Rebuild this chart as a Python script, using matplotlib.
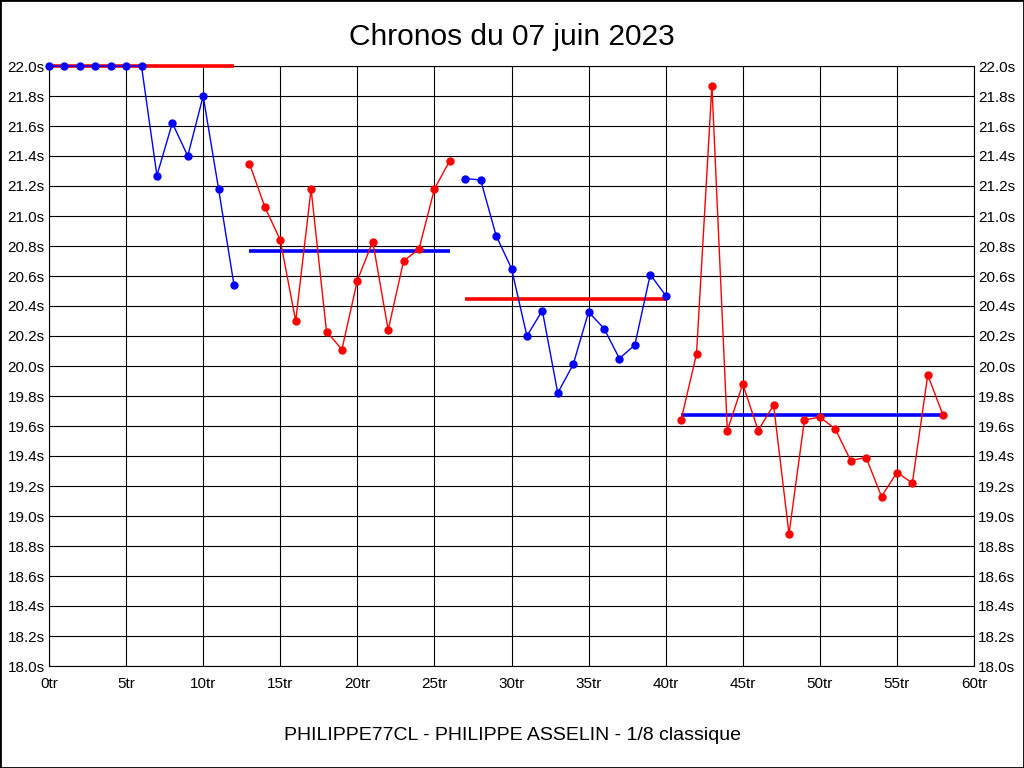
import matplotlib.pyplot as plt
from matplotlib.patches import Rectangle
from matplotlib.ticker import MultipleLocator, FuncFormatter

plt.rcParams['font.family'] = ['Liberation Sans', 'DejaVu Sans']

# lap times (s), one list per relay segment
laps_1 = list(range(0, 13))
times_1 = [22.0, 22.0, 22.0, 22.0, 22.0, 22.0, 22.0, 21.27, 21.62, 21.40, 21.80, 21.18, 20.54]
avg_1 = 22.0

laps_2 = list(range(13, 27))
times_2 = [21.35, 21.06, 20.84, 20.30, 21.18, 20.23, 20.11, 20.57, 20.83, 20.24, 20.70, 20.78, 21.18, 21.37]
avg_2 = 20.77

laps_3 = list(range(27, 41))
times_3 = [21.25, 21.24, 20.87, 20.65, 20.20, 20.37, 19.82, 20.01, 20.36, 20.25, 20.05, 20.14, 20.61, 20.47]
avg_3 = 20.45

laps_4 = list(range(41, 59))
times_4 = [19.64, 20.08, 21.87, 19.57, 19.88, 19.57, 19.74, 18.88, 19.64, 19.66, 19.58, 19.37, 19.39, 19.13,
           19.29, 19.22, 19.94, 19.67]
avg_4 = 19.67

segments = [
    (laps_1, times_1, avg_1, '#0000ff', '#ff0000'),
    (laps_2, times_2, avg_2, '#ff0000', '#0000ff'),
    (laps_3, times_3, avg_3, '#0000ff', '#ff0000'),
    (laps_4, times_4, avg_4, '#ff0000', '#0000ff'),
]

fig = plt.figure(figsize=(10.24, 7.68), dpi=100)
ax = fig.add_axes([49 / 1024, 1 - 666 / 768, 925 / 1024, 600 / 768])

for laps, times, avg, col, avg_col in segments:
    ax.plot([laps[0], laps[-1]], [avg, avg], color=avg_col, lw=2.6, solid_capstyle='butt',
            zorder=4, clip_on=False)
    ax.plot(laps, times, color=col, lw=1.0, marker='o', markersize=5, zorder=5, clip_on=False)

ax.set_xlim(0, 60)
ax.set_ylim(18.0, 22.0)
ax.xaxis.set_major_locator(MultipleLocator(5))
ax.yaxis.set_major_locator(MultipleLocator(0.2))
ax.xaxis.set_major_formatter(FuncFormatter(lambda v, p: f"{v:.0f}tr"))
ax.yaxis.set_major_formatter(FuncFormatter(lambda v, p: f"{v:.1f}s"))
ax.grid(True, color='black', lw=0.8)
ax.set_axisbelow(True)
ax.tick_params(axis='both', length=0, labelsize=11)
ax.tick_params(axis='x', pad=8)
ax.tick_params(axis='y', pad=3, labelright=True, right=False)
for s in ax.spines.values():
    s.set_linewidth(0.8)

fig.text(0.5, 1 - 37 / 768, "Chronos du 07 juin 2023", ha='center', va='center', fontsize=21.5)
fig.text(0.5, 1 - 735 / 768, "PHILIPPE77CL - PHILIPPE ASSELIN - 1/8 classique", ha='center', va='center',
         fontsize=14)

fig.patches.append(Rectangle((0, 0), 1, 1, transform=fig.transFigure, fill=False,
                             edgecolor='black', lw=2))

fig.savefig('out.png', dpi=100)
